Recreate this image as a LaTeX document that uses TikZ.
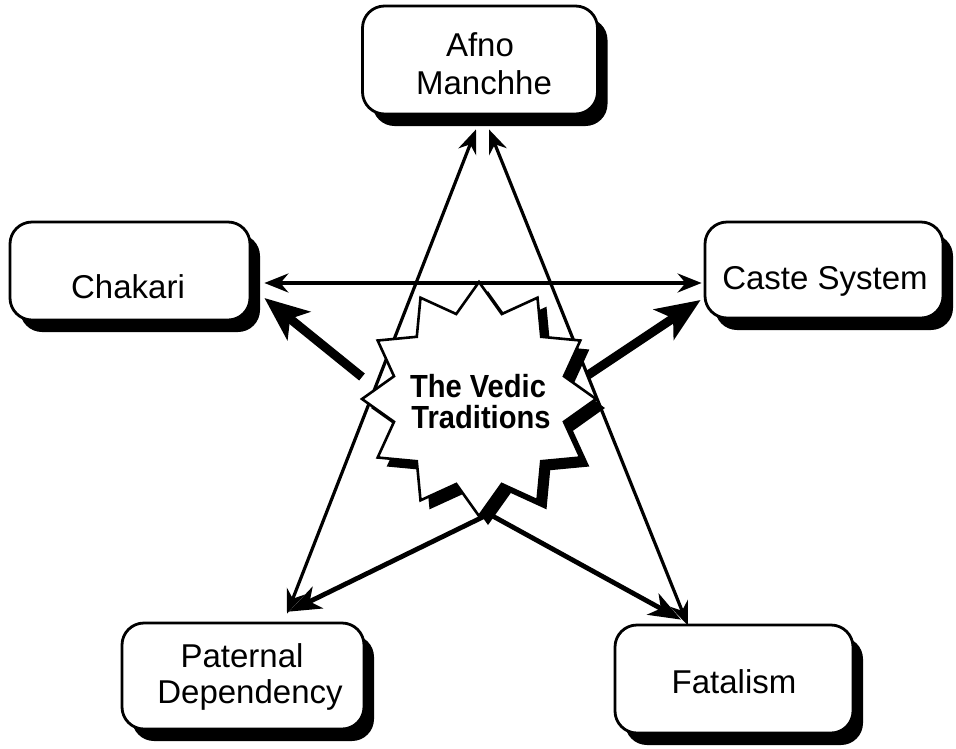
\documentclass[tikz,border=0pt]{standalone}
\usepackage{fontspec}
\usepackage{graphicx}
\setmainfont{Liberation Sans}
\usetikzlibrary{arrows.meta,shapes.geometric,shadows,calc}
\begin{document}
\begin{tikzpicture}[x=1pt,y=-1pt,
  box/.style={draw=black, fill=white, line width=2.8pt, rounded corners=22pt,
    inner sep=0pt, general shadow={fill=black, shadow xshift=10pt, shadow yshift=-12pt}},
  burst/.style={star, star points=12, star point ratio=1.33, minimum size=234pt,
    draw=black, fill=white, line width=2.6pt, inner sep=0pt,
    general shadow={fill=black, shadow xshift=9pt, shadow yshift=-9pt}},
  burstlbl/.style={anchor=base, inner sep=0pt, font=\bfseries\fontsize{32}{31}\selectfont},
  lbl/.style={anchor=base, inner sep=0pt, font=\fontsize{33}{36}\selectfont},
  thin/.style={line width=3.2pt, {Stealth[length=24pt,width=19pt,inset=8pt]}-{Stealth[length=24pt,width=19pt,inset=8pt]}},
  mid/.style={line width=4.8pt, -{Stealth[length=32pt,width=24pt,inset=9pt]}},
  thick/.style={line width=9pt, -{Stealth[length=44pt,width=36pt,inset=11pt]}}
]
\fill[white] (0,0) rectangle (956,748);
\useasboundingbox (0,0) rectangle (956,748);

% outer boxes
\node[box, minimum width=235pt, minimum height=108pt] (afno) at (480,60) {};
\node[box, minimum width=240pt, minimum height=98pt] (chakari) at (130,271) {};
\node[box, minimum width=238pt, minimum height=96pt] (caste) at (824,270) {};
\node[box, minimum width=242pt, minimum height=106pt] (paternal) at (243,676) {};
\node[box, minimum width=238pt, minimum height=108pt] (fatalism) at (734,679) {};

% box labels
\node[lbl] (afnoA) at (480,56) {Afno};
\node[lbl] (afnoB) at (484,94) {Manchhe};
\node[lbl] (chakariL) at (128,298) {Chakari};
\node[lbl] (casteL) at (825,289) {Caste System};
\node[lbl] (paternalA) at (242,667) {Paternal};
\node[lbl] (paternalB) at (250,703) {Dependency};
\node[lbl] (fatalismL) at (734,693) {Fatalism};

% pentagram of links between the outer boxes
\draw[thin] ($(chakari.east)+(13,12)$) -- ($(caste.west)+(-2,13)$);
\draw[thin] ($(afno.south)+(-4,14)$) -- ($(paternal.north)+(44,-8)$);
\draw[thin] ($(afno.south)+(9,14)$) -- ($(fatalism.north)+(-46,2)$);

% central starburst and its title
\node[burst] (vedic) at (479,399) {};
\node[burstlbl] (vedicA) at (478,397) {\scalebox{0.91}[1]{The Vedic}};
\node[burstlbl] (vedicB) at (481,428) {\scalebox{0.91}[1]{Traditions}};

% arrows from the centre
\coordinate (foot) at ($(vedic.center)+(10,115)$);
\draw[mid] (foot) -- ($(paternal.north)+(46,-10)$);
\draw[mid] (foot) -- ($(fatalism.north)+(-53,-4)$);
\draw[thick] ($(vedic.center)+(-117,-22)$) -- ($(chakari.east)+(13,27)$);
\draw[thick] ($(vedic.center)+(109,-24)$) -- ($(caste.west)+(-3,30)$);
\end{tikzpicture}
\end{document}
